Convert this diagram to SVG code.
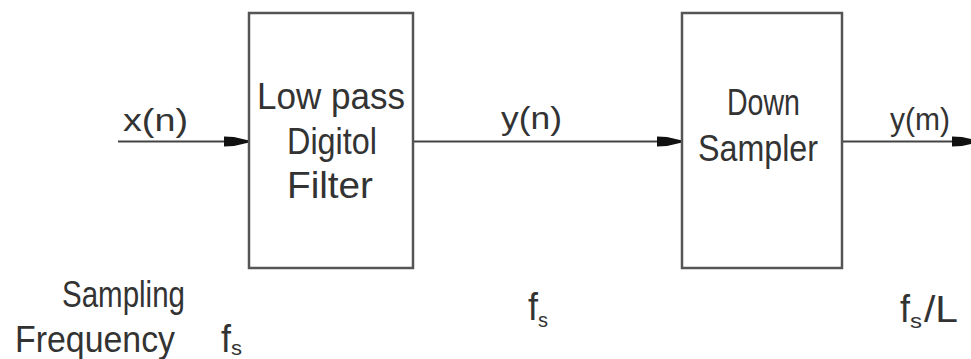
<svg xmlns="http://www.w3.org/2000/svg" width="971" height="359" viewBox="0 0 971 359">
<style>
.box{fill:#fff;stroke:#555;stroke-width:2.5}
.wire{fill:none;stroke:#444;stroke-width:2}
.t{font-family:"Liberation Sans",Arial,sans-serif;fill:#333;font-size:37px;font-weight:normal}
.lbl{font-size:32px}
.f{font-size:39px}
.sub{font-size:20px}
</style>
<defs>
<marker id="ah" markerUnits="userSpaceOnUse" markerWidth="26" markerHeight="12" viewBox="-25 -6 26 12" refX="0" refY="0" orient="auto" overflow="visible">
<path d="M-25,-5 L-15,-4.5 L0,-1 L0,1 L-15,4.5 L-25,5 Z" fill="#111"/>
</marker>
</defs>
<rect width="971" height="359" fill="#fff"/>
<g id="connectors">
<line class="wire" x1="118" y1="141.5" x2="249" y2="141.5" marker-end="url(#ah)"/>
<line class="wire" x1="413" y1="141.5" x2="682" y2="141.5" marker-end="url(#ah)"/>
<line class="wire" x1="842" y1="141.5" x2="977" y2="141.5" marker-end="url(#ah)"/>
<text class="t lbl" x="123" y="131" textLength="65" lengthAdjust="spacingAndGlyphs">x(n)</text>
<text class="t lbl" x="501" y="129" textLength="61" lengthAdjust="spacingAndGlyphs">y(n)</text>
<text class="t lbl" x="890" y="130" textLength="60" lengthAdjust="spacingAndGlyphs">y(m)</text>
</g>
<g id="lowpass-filter">
<rect class="box" x="249" y="13" width="164" height="255"/>
<text class="t" x="257" y="109" textLength="148" lengthAdjust="spacingAndGlyphs">Low pass</text>
<text class="t" x="287" y="154" textLength="90" lengthAdjust="spacingAndGlyphs">Digitol</text>
<text class="t" x="287" y="198" textLength="86" lengthAdjust="spacingAndGlyphs">Filter</text>
</g>
<g id="down-sampler">
<rect class="box" x="682" y="13" width="160" height="255"/>
<text class="t" x="727" y="115" textLength="73" lengthAdjust="spacingAndGlyphs">Down</text>
<text class="t" x="698" y="161" textLength="120" lengthAdjust="spacingAndGlyphs">Sampler</text>
</g>
<g id="rates">
<text class="t" x="62" y="307" textLength="123" lengthAdjust="spacingAndGlyphs">Sampling</text>
<text class="t" x="15" y="352" textLength="160" lengthAdjust="spacingAndGlyphs">Frequency</text>
<text class="t f" x="221" y="352" textLength="10" lengthAdjust="spacingAndGlyphs">f</text>
<text class="t sub" x="231" y="355" textLength="11" lengthAdjust="spacingAndGlyphs">s</text>
<text class="t f" x="528" y="320" textLength="10" lengthAdjust="spacingAndGlyphs">f</text>
<text class="t sub" x="538" y="327" textLength="10" lengthAdjust="spacingAndGlyphs">s</text>
<text class="t f" x="900" y="322" textLength="10" lengthAdjust="spacingAndGlyphs">f</text>
<text class="t sub" x="910" y="328" textLength="12" lengthAdjust="spacingAndGlyphs">s</text>
<text class="t" x="924" y="322" textLength="34" lengthAdjust="spacingAndGlyphs">/L</text>
</g>
</svg>
